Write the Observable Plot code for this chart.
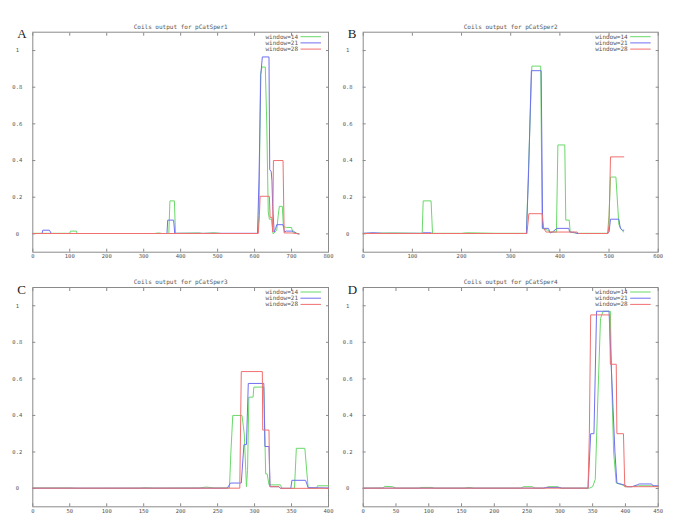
<!DOCTYPE html>
<html><head><meta charset="utf-8">
<script src="https://cdn.jsdelivr.net/npm/d3@7"></script>
<script src="https://cdn.jsdelivr.net/npm/@observablehq/plot@0.6"></script>
<style>
html,body{margin:0;padding:0;background:#fff;}
#root{position:relative;width:685px;height:532px;overflow:hidden;background:#fff;}
#root svg{position:absolute;overflow:visible;background:transparent;max-width:none;}
</style></head><body><div id="root"></div>
<script>
const seriesNames = ["window=14", "window=21", "window=28"];
const seriesColors = ["#6ad96a", "#7070f0", "#f07070"];
const yTicks = [0, 0.2, 0.4, 0.6, 0.8, 1];
const panelLetters = ["A", "B", "C", "D"];
const panelTitles = ["Coils output for pCatSper1", "Coils output for pCatSper2", "Coils output for pCatSper3", "Coils output for pCatSper4"];
const xMax = [800, 600, 400, 450];
const xStep = [100, 100, 50, 50];

// Panel A
const a14 = [[0,0.003],[100,0.003],[102,0.015],[118,0.015],[120,0.002],[330,0.002],[340,0.005],[350,0.002],[368,0.002],[371,0.18],[383,0.18],[386,0.003],[450,0.005],[460,0.002],[490,0.006],[510,0.002],[608,0.002],[612,0.1],[616,0.87],[620,0.91],[629,0.91],[633,0.6],[637,0.12],[640,0.08],[646,0.08],[650,0.0],[660,0.02],[664,0.1],[667,0.15],[675,0.15],[678,0.04],[686,0.035],[700,0.035],[703,0.01],[720,0.0]];
const a21 = [[0,0.002],[25,0.002],[27,0.02],[45,0.02],[50,0.002],[363,0.002],[365,0.075],[381,0.075],[384,0.003],[608,0.003],[612,0.3],[617,0.87],[621,0.965],[639,0.965],[641,0.35],[645,0.34],[647,0.29],[649,0.15],[653,0.01],[657,0.03],[660,0.05],[677,0.05],[681,0.01],[686,0.015],[705,0.015],[714,0.002],[720,0.0]];
const a28 = [[0,0.002],[610,0.002],[613,0.1],[615,0.205],[640,0.205],[642,0.09],[647,0.09],[649,0.01],[651,0.4],[677,0.4],[680,0.005],[700,0.005],[720,0.0]];

// Panel B
const b14 = [[0,0.003],[60,0.005],[120,0.003],[122,0.18],[138,0.18],[141,0.003],[200,0.003],[210,0.006],[270,0.003],[332,0.003],[338,0.5],[343,0.915],[361,0.915],[364,0.03],[375,0.02],[380,0.01],[393,0.01],[396,0.485],[410,0.485],[412,0.075],[419,0.075],[421,0.01],[435,0.003],[497,0.003],[500,0.1],[503,0.31],[514,0.31],[520,0.05],[526,0.02],[530,0.01]];
const b21 = [[0,0.003],[20,0.006],[40,0.003],[120,0.003],[122,0.006],[138,0.006],[140,0.002],[332,0.002],[336,0.3],[342,0.89],[362,0.89],[365,0.03],[377,0.03],[380,0.005],[385,0.01],[394,0.03],[418,0.03],[420,0.01],[430,0.008],[435,0.002],[495,0.002],[500,0.01],[503,0.08],[520,0.08],[523,0.03],[527,0.02],[530,0.02]];
const b28 = [[0,0.002],[333,0.002],[337,0.11],[364,0.11],[367,0.03],[372,0.01],[435,0.01],[438,0.002],[498,0.002],[500,0.05],[503,0.42],[530,0.42]];

// Panel C
const c14 = [[0,0.003],[50,0.003],[60,0.001],[145,0.002],[150,0.004],[165,0.002],[225,0.003],[235,0.008],[245,0.003],[266,0.003],[268,0.2],[270.5,0.4],[283,0.4],[286,0.3],[289,0.01],[290.5,0.1],[292.3,0.5],[298,0.5],[299,0.555],[312.5,0.555],[315,0.08],[317,0.08],[319.5,0.02],[335,0.02],[337,0.001],[354,0.001],[356.5,0.22],[368,0.22],[372.5,0.002],[384,0.002],[385,0.015],[400,0.015]];
const c21 = [[0,0.002],[263,0.002],[267.5,0.03],[282,0.03],[285.6,0.24],[289,0.24],[291.5,0.575],[312.5,0.575],[314,0.23],[319.5,0.23],[321,0.01],[333,0.01],[335,0.001],[349,0.001],[350.5,0.045],[369,0.045],[372.5,0.005],[400,0.003]];
const c28 = [[0,0.002],[280,0.002],[282,0.64],[310.5,0.64],[311,0.32],[319.5,0.32],[320.5,0.01],[333,0.01],[335,0.001],[400,0.001]];

// Panel D
const d14 = [[0,0.002],[30,0.003],[33,0.012],[45,0.01],[50,0.002],[85,0.002],[88,0.006],[105,0.006],[108,0.002],[155,0.002],[158,0.005],[165,0.005],[168,0.002],[240,0.002],[245,0.01],[258,0.01],[262,0.002],[278,0.002],[282,0.01],[297,0.01],[300,0.002],[345,0.002],[350,0.01],[354,0.05],[358,0.5],[362,0.93],[366,0.97],[377,0.97],[379,0.6],[382,0.2],[386,0.03],[395,0.02],[400,0.01],[410,0.01],[420,0.015],[440,0.015],[450,0.01]];
const d21 = [[0,0.002],[275,0.002],[278,0.006],[300,0.006],[303,0.002],[343,0.002],[345,0.15],[347,0.3],[352,0.3],[356,0.97],[375,0.97],[378,0.7],[381,0.45],[384,0.2],[387,0.03],[398,0.02],[403,0.01],[410,0.01],[418,0.02],[421,0.025],[440,0.025],[442,0.015],[450,0.015]];
const d28 = [[0,0.002],[343,0.002],[345,0.3],[347,0.95],[376,0.95],[377,0.68],[386,0.68],[387,0.3],[397,0.3],[399,0.01],[420,0.01],[450,0.01]];

const panelSeries = [[a14, a21, a28], [b14, b21, b28], [c14, c21, c28], [d14, d21, d28]];

const boxes = [
  {left: 0,   top: 0,   width: 342, height: 268, ml: 32.3, mr: 14,   mt: 31.7, mb: 16.3},
  {left: 340, top: 0,   width: 345, height: 268, ml: 22.7, mr: 27.3, mt: 31.7, mb: 16.3},
  {left: 0,   top: 262, width: 342, height: 270, ml: 32.3, mr: 14,   mt: 25,   mb: 25.7},
  {left: 340, top: 262, width: 345, height: 270, ml: 22.7, mr: 27.3, mt: 25,   mb: 25.7}
];

const mono = "DejaVu Sans Mono";
const axisGray = "#8a8a8a";
const textGray = "#555";

function panel(i) {
  const b = boxes[i];
  const rows = panelSeries[i].flatMap((pts, k) => pts.map(([x, y]) => ({x, y, s: seriesNames[k]})));
  const xt = d3.range(0, xMax[i] + 1, xStep[i]);
  const plot = Plot.plot({
    width: b.width, height: b.height,
    marginLeft: b.ml, marginRight: b.mr, marginTop: b.mt, marginBottom: b.mb,
    style: {fontFamily: mono, fontSize: "5.5px", color: textGray, background: "transparent", overflow: "visible"},
    x: {domain: [0, xMax[i]], label: null},
    y: {domain: [-0.1, 1.1], label: null},
    color: {domain: seriesNames, range: seriesColors},
    marks: [
      Plot.frame({stroke: axisGray}),
      Plot.axisX(xt, {anchor: "bottom", tickSize: 0, tickPadding: 2, label: null, fill: textGray}),
      Plot.axisX(xt, {anchor: "bottom", tickSize: 3, dy: -3, fill: "none", stroke: axisGray, label: null}),
      Plot.axisX(xt, {anchor: "top", tickSize: 3, dy: 3, fill: "none", stroke: axisGray, label: null}),
      Plot.axisY(yTicks, {anchor: "left", tickSize: 0, tickPadding: 15.5, textAnchor: "middle", tickFormat: d => String(d), label: null, fill: textGray}),
      Plot.axisY(yTicks, {anchor: "left", tickSize: 3, dx: 3, fill: "none", stroke: axisGray, label: null}),
      Plot.axisY(yTicks, {anchor: "right", tickSize: 3, dx: -3, fill: "none", stroke: axisGray, label: null}),
      Plot.line(rows, {x: "x", y: "y", z: "s", stroke: "s", strokeWidth: 1}),
      Plot.text([panelTitles[i]], {frameAnchor: "top", dy: -7.5, text: d => d, fontSize: 6, fill: textGray}),
      Plot.text([panelLetters[i]], {frameAnchor: "top-left", dx: -15.5, dy: -3, text: d => d, fontFamily: "Liberation Serif", fontSize: 13, fill: "#222"})
    ]
  });
  const svg = d3.select(plot);
  svg.style("left", b.left + "px").style("top", b.top + "px");
  const right = b.width - b.mr;
  const g = svg.append("g").attr("font-family", mono).attr("font-size", 6).attr("fill", textGray);
  seriesNames.forEach((n, k) => {
    const yy = b.mt + 5 + k * 6.2;
    g.append("text").attr("x", right - 30).attr("y", yy).attr("text-anchor", "end").attr("dy", "0.32em").text(n);
    g.append("line").attr("x1", right - 27.5).attr("x2", right - 7).attr("y1", yy).attr("y2", yy)
      .attr("stroke", seriesColors[k]).attr("stroke-width", 1);
  });
  return plot;
}

const root = document.getElementById("root");
for (let i = 0; i < 4; i++) root.appendChild(panel(i));
</script>
</body></html>
